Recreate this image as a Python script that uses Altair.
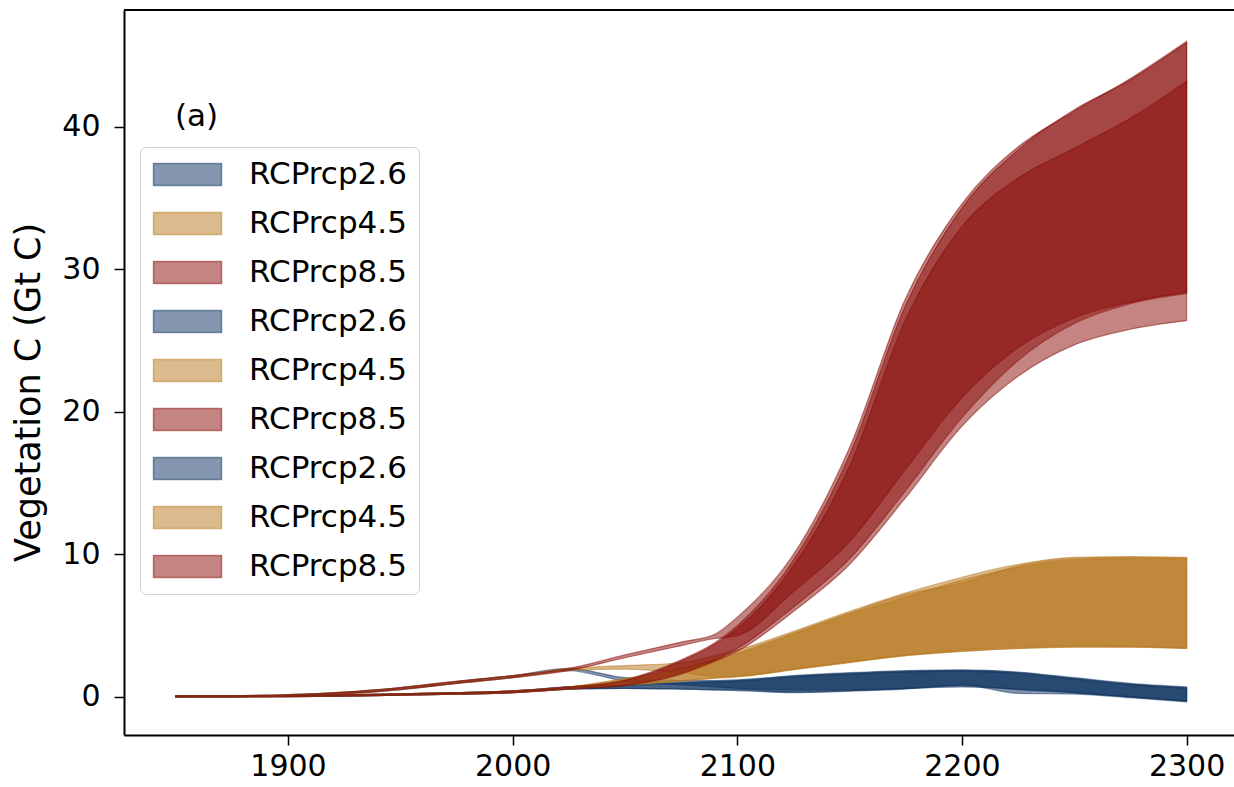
import altair as alt
import pandas as pd

# ---------------- data ----------------
years = [1850, 1875, 1900, 1925, 1950, 1975, 2000, 2025, 2050, 2075, 2090,
         2100, 2125, 2150, 2175, 2200, 2225, 2250, 2275, 2300]

# ensemble 1 (upper historical track)
rcp26_1_lo = [0.0, 0.01, 0.06, 0.22, 0.52, 0.95, 1.35, 1.85, 1.10, 0.85, 0.70, 0.60, 0.50, 0.50, 0.60, 0.70, 0.55, 0.30, 0.00, -0.25]
rcp26_1_hi = [0.08, 0.09, 0.16, 0.34, 0.66, 1.10, 1.50, 2.00, 1.35, 1.15, 1.15, 1.20, 1.50, 1.70, 1.85, 1.90, 1.75, 1.35, 0.95, 0.70]
rcp45_1_lo = [0.0, 0.01, 0.06, 0.22, 0.52, 0.95, 1.35, 1.85, 1.95, 1.70, 1.45, 1.45, 1.95, 2.45, 2.90, 3.20, 3.40, 3.50, 3.50, 3.40]
rcp45_1_hi = [0.08, 0.09, 0.16, 0.34, 0.66, 1.10, 1.50, 2.00, 2.20, 2.40, 2.90, 3.30, 4.60, 6.00, 7.30, 8.40, 9.30, 9.80, 9.85, 9.80]
rcp85_1_lo = [0.0, 0.01, 0.06, 0.22, 0.52, 0.95, 1.35, 1.85, 2.75, 3.60, 4.10, 4.30, 7.40, 10.9, 16.0, 21.0, 24.5, 26.6, 27.7, 28.4]
rcp85_1_hi = [0.08, 0.09, 0.16, 0.34, 0.66, 1.10, 1.50, 2.00, 2.95, 3.85, 4.40, 5.60, 10.0, 17.5, 28.0, 34.6, 38.6, 41.1, 43.4, 46.0]

# ensemble 2 (lower historical track)
rcp26_2_lo = [0.0, 0.01, 0.02, 0.06, 0.12, 0.20, 0.30, 0.55, 0.60, 0.55, 0.50, 0.45, 0.30, 0.40, 0.55, 0.80, 0.50, 0.30, 0.00, -0.30]
rcp26_2_hi = [0.08, 0.09, 0.10, 0.15, 0.22, 0.30, 0.42, 0.70, 0.85, 1.00, 1.10, 1.15, 1.45, 1.65, 1.80, 1.85, 1.70, 1.30, 0.90, 0.65]
rcp45_2_lo = [0.0, 0.01, 0.02, 0.06, 0.12, 0.20, 0.30, 0.55, 0.80, 1.10, 1.30, 1.40, 1.90, 2.40, 2.90, 3.20, 3.40, 3.50, 3.50, 3.40]
rcp45_2_hi = [0.08, 0.09, 0.10, 0.15, 0.22, 0.30, 0.42, 0.70, 1.30, 2.00, 2.60, 3.10, 4.50, 5.90, 7.20, 8.00, 9.20, 9.70, 9.80, 9.75]
rcp85_2_lo = [0.0, 0.01, 0.02, 0.06, 0.12, 0.20, 0.30, 0.55, 0.85, 1.70, 2.60, 3.40, 6.30, 9.70, 14.5, 19.6, 23.6, 26.2, 27.6, 28.3]
rcp85_2_hi = [0.08, 0.09, 0.10, 0.15, 0.22, 0.30, 0.42, 0.70, 1.20, 2.60, 3.80, 5.00, 9.60, 17.0, 27.5, 34.3, 38.4, 41.2, 43.3, 45.9]

# ensemble 3 (lower historical track)
rcp26_3_lo = [0.0, 0.01, 0.02, 0.06, 0.12, 0.20, 0.30, 0.55, 0.60, 0.55, 0.50, 0.50, 0.35, 0.45, 0.60, 0.85, 0.25, 0.20, -0.05, -0.35]
rcp26_3_hi = [0.08, 0.09, 0.10, 0.15, 0.22, 0.30, 0.42, 0.70, 0.80, 0.95, 1.05, 1.10, 1.40, 1.60, 1.75, 1.80, 1.65, 1.25, 0.85, 0.60]
rcp45_3_lo = [0.0, 0.01, 0.02, 0.06, 0.12, 0.20, 0.30, 0.55, 0.85, 1.15, 1.35, 1.45, 1.95, 2.45, 2.95, 3.30, 3.50, 3.60, 3.55, 3.45]
rcp45_3_hi = [0.08, 0.09, 0.10, 0.15, 0.22, 0.30, 0.42, 0.70, 1.25, 1.90, 2.50, 3.00, 4.40, 5.80, 7.00, 8.20, 9.10, 9.60, 9.70, 9.70]
rcp85_3_lo = [0.0, 0.01, 0.02, 0.06, 0.12, 0.20, 0.30, 0.55, 0.80, 1.60, 2.50, 3.20, 6.00, 9.30, 14.0, 19.0, 22.5, 24.7, 25.8, 26.4]
rcp85_3_hi = [0.08, 0.09, 0.10, 0.15, 0.22, 0.30, 0.42, 0.70, 1.15, 2.50, 3.70, 4.80, 9.20, 16.2, 26.5, 33.0, 36.4, 38.5, 40.6, 43.2]

legend_labels = ["RCPrcp2.6", "RCPrcp4.5", "RCPrcp8.5"] * 3
x_ticks = [1900, 2000, 2100, 2200, 2300]
y_ticks = [0, 10, 20, 30, 40]
panel_text = ["(a)"]

# ---------------- styling ----------------
blue = "rgba(9,47,93,0.5)"
gold = "rgba(183,120,30,0.5)"
red = "rgba(135,10,5,0.5)"
band_colors = [blue, gold, red] * 3
FONT = "DejaVu Sans"

series = [
    (rcp26_1_lo, rcp26_1_hi), (rcp45_1_lo, rcp45_1_hi), (rcp85_1_lo, rcp85_1_hi),
    (rcp26_2_lo, rcp26_2_hi), (rcp45_2_lo, rcp45_2_hi), (rcp85_2_lo, rcp85_2_hi),
    (rcp26_3_lo, rcp26_3_hi), (rcp45_3_lo, rcp45_3_hi), (rcp85_3_lo, rcp85_3_hi),
]
keys = [f"{lab} #{i + 1}" for i, lab in enumerate(legend_labels)]

rows = []
for k, (lo, hi) in zip(keys, series):
    for yr, a, b in zip(years, lo, hi):
        rows.append({"year": yr, "lo": a, "hi": b, "key": k})
df = pd.DataFrame(rows)
single = pd.DataFrame({"t": panel_text})

W, H = 1110, 725
xscale = alt.Scale(domain=[1827.0, 2321.1], nice=False, zero=False)
yscale = alt.Scale(domain=[-2.67, 48.2], nice=False, zero=False)
cscale = alt.Scale(domain=keys, range=band_colors)

legend = alt.Legend(
    title=None, orient="none", legendX=16, legendY=137,
    symbolType="M-1.27,-1H4.91V1H-1.27Z", symbolSize=484, symbolStrokeWidth=1.5,
    labelFont=FONT, labelFontSize=31, labelColor="black", labelOffset=66,
    labelExpr="split(datum.label, ' #')[0]",
    rowPadding=17, padding=12, strokeColor="#d0d0d0", fillColor="white",
    cornerRadius=6,
)

layers = []
for k in keys:
    layers.append(
        alt.Chart(df).transform_filter(alt.datum.key == k)
        .mark_area(interpolate="monotone", strokeWidth=1.2)
        .encode(
            x=alt.X("year:Q", scale=xscale,
                    axis=alt.Axis(values=x_ticks, format="d", title=None, grid=False,
                                  labelFontSize=30, labelFont=FONT, labelColor="black",
                                  tickSize=10, tickWidth=1.5, tickColor="black",
                                  domainColor="black", domainWidth=2, labelPadding=6)),
            y=alt.Y("lo:Q", scale=yscale,
                    axis=alt.Axis(values=y_ticks, title="Vegetation C (Gt C)", grid=False,
                                  labelFontSize=30, labelFont=FONT, labelColor="black",
                                  tickSize=10, tickWidth=1.5, tickColor="black",
                                  domainColor="black", domainWidth=2, labelPadding=14,
                                  titleFont=FONT, titleFontSize=35, titleColor="black",
                                  titleFontWeight="normal", titleX=-96, titleY=382,
                                  titleBaseline="middle")),
            y2="hi:Q",
            fill=alt.Fill("key:N", scale=cscale, legend=legend),
            stroke=alt.Stroke("key:N", scale=cscale, legend=legend),
        )
    )

top_spine = alt.Chart(single).mark_rule(color="black", strokeWidth=2).encode(
    x=alt.value(0), x2=alt.value(W), y=alt.value(0)
)
panel_label = alt.Chart(single).mark_text(
    font=FONT, fontSize=31, align="left", baseline="middle", color="black"
).encode(text="t:N", x=alt.value(51), y=alt.value(107))

chart = alt.layer(*layers, top_spine, panel_label).properties(
    width=W, height=H,
    autosize=alt.AutoSizeParams(type="none"),
    padding={"left": 124, "top": 10, "right": 0, "bottom": 52},
).configure_view(stroke=None)

chart.save("out.html", embed_options={"renderer": "svg", "actions": False})
